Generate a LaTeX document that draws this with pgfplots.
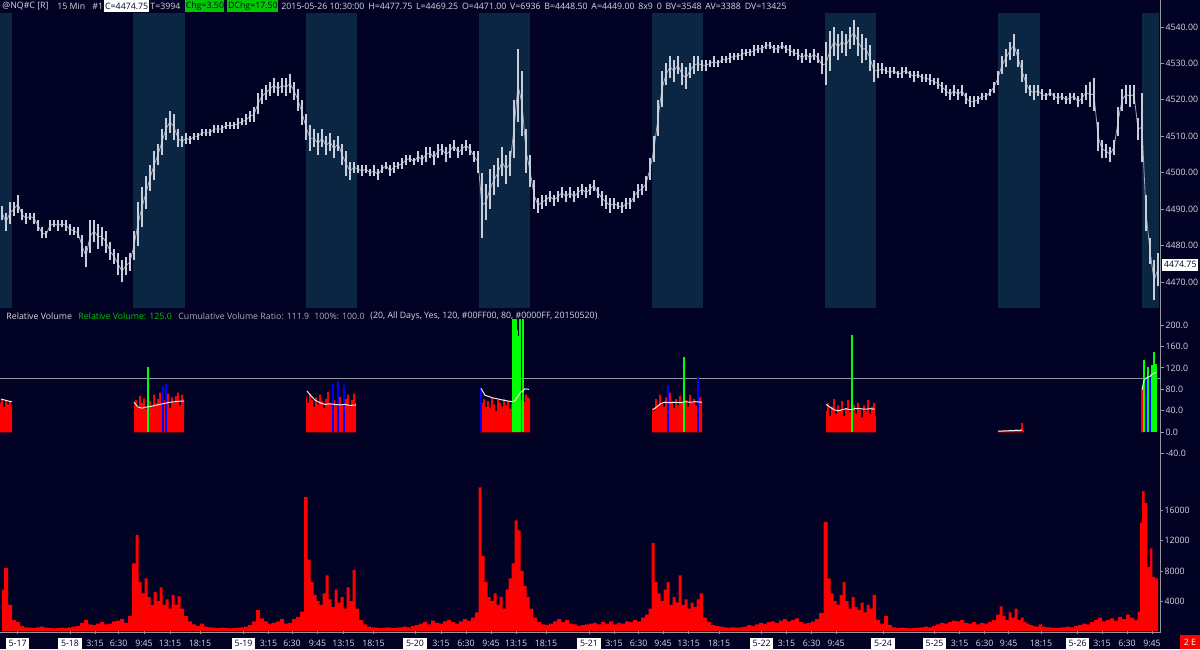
\documentclass[border=0pt]{standalone}
\usepackage{pgfplots}
\usepackage{pgfplotstable}
\pgfplotsset{compat=1.18}
\usepackage{fontspec}
\setmainfont{Open Sans}
\definecolor{bgcol}{RGB}{2,2,36}
\definecolor{sesscol}{RGB}{10,38,66}
\definecolor{pricecol}{RGB}{200,205,218}
\definecolor{axcol}{RGB}{150,150,160}
\definecolor{lbl}{RGB}{215,215,222}
\definecolor{vred}{RGB}{255,0,0}
\definecolor{vgreen}{RGB}{0,255,0}
\definecolor{vblue}{RGB}{0,0,255}
\definecolor{hgreen}{RGB}{0,200,0}
\definecolor{dimtxt}{RGB}{170,170,180}
\newcommand\fs{\fontsize{4.4}{5.3}\selectfont}
\newcommand\db[1]{{\setlength{\fboxsep}{1.3pt}\colorbox{white}{\textcolor{bgcol}{#1}}}}

% price bars: bar position, low, high
\pgfplotstableread{
x lo hi
2 4487 4491
6 4484 4489
10 4486 4492
14 4488 4492
18 4489 4494
22 4487 4490
26 4486 4489
30 4487 4489
34 4486 4489
38 4484 4487
42 4482 4485
46 4482 4484
50 4484 4487
54 4485 4487
58 4484 4487
62 4485 4487
66 4484 4487
70 4483 4486
74 4483 4485
78 4482 4485
82 4477 4483
86 4474 4480
90 4478 4487
94 4481 4487
98 4479 4486
102 4480 4485
106 4478 4484
110 4476 4481
114 4475 4479
118 4472 4478
122 4470 4476
126 4472 4477
130 4473 4478
134 4476 4484
138 4480 4492
142 4485 4496
146 4490 4499
150 4495 4502
154 4498 4506
158 4502 4508
162 4505 4512
166 4509 4515
170 4511 4517
174 4509 4516
178 4507 4512
182 4507 4510
186 4508 4511
190 4508 4510
194 4509 4511
198 4509 4511
202 4510 4512
206 4510 4512
210 4510 4512
214 4511 4513
218 4511 4513
222 4511 4513
226 4512 4514
230 4512 4514
234 4512 4514
238 4512 4515
242 4513 4515
246 4513 4516
250 4514 4517
254 4514 4518
258 4516 4522
262 4519 4523
266 4520 4524
270 4521 4525
274 4522 4526
278 4521 4525
282 4522 4526
286 4521 4526
290 4522 4527
294 4520 4525
298 4517 4523
302 4513 4520
306 4509 4516
310 4506 4513
314 4507 4512
318 4505 4511
322 4507 4512
326 4505 4510
330 4506 4511
334 4504 4509
338 4506 4510
342 4502 4508
346 4499 4506
350 4498 4503
354 4500 4503
358 4500 4502
362 4499 4502
366 4500 4502
370 4499 4501
374 4499 4502
378 4498 4501
382 4500 4502
386 4501 4503
390 4499 4502
394 4500 4503
398 4501 4503
402 4501 4504
406 4502 4505
410 4503 4505
414 4502 4504
418 4503 4506
422 4502 4505
426 4503 4507
430 4504 4507
434 4502 4506
438 4504 4508
442 4505 4508
446 4503 4507
450 4504 4508
454 4506 4509
458 4504 4507
462 4505 4508
466 4506 4509
470 4505 4508
474 4503 4506
478 4500 4506
482 4482 4500
486 4487 4497
490 4490 4501
494 4494 4502
498 4496 4504
502 4499 4507
506 4497 4505
510 4499 4506
514 4504 4520
518 4514 4534
522 4510 4528
526 4500 4512
530 4496 4505
534 4490 4498
538 4489 4493
542 4490 4494
546 4491 4494
550 4492 4495
554 4491 4494
558 4492 4495
562 4493 4496
566 4492 4495
570 4493 4496
574 4492 4495
578 4493 4496
582 4494 4497
586 4493 4496
590 4494 4497
594 4495 4498
598 4493 4496
602 4491 4495
606 4490 4494
610 4489 4493
614 4490 4493
618 4490 4492
622 4489 4492
626 4490 4493
630 4490 4493
634 4492 4495
638 4493 4497
642 4494 4497
646 4495 4499
650 4498 4504
654 4503 4510
658 4510 4520
662 4518 4528
666 4524 4530
670 4526 4532
674 4525 4531
678 4527 4532
682 4524 4530
686 4523 4529
690 4526 4530
694 4527 4532
698 4528 4532
702 4528 4531
706 4528 4531
710 4529 4531
714 4529 4532
718 4529 4531
722 4530 4532
726 4530 4532
730 4530 4533
734 4531 4533
738 4531 4533
742 4531 4534
746 4532 4534
750 4532 4534
754 4532 4535
758 4533 4535
762 4533 4535
766 4534 4536
770 4534 4536
774 4533 4535
778 4533 4535
782 4534 4536
786 4533 4535
790 4532 4535
794 4532 4534
798 4531 4534
802 4530 4533
806 4531 4534
810 4530 4533
814 4531 4534
818 4530 4533
822 4527 4532
826 4524 4536
830 4528 4539
834 4532 4540
838 4531 4538
842 4533 4539
846 4532 4538
850 4534 4540
854 4535 4542
858 4532 4540
862 4530 4538
866 4531 4537
870 4528 4535
874 4525 4531
878 4526 4530
882 4527 4530
886 4527 4529
890 4526 4529
894 4527 4529
898 4526 4528
902 4526 4529
906 4527 4529
910 4526 4528
914 4525 4528
918 4526 4528
922 4525 4527
926 4525 4527
930 4524 4527
934 4524 4526
938 4523 4526
942 4522 4525
946 4521 4524
950 4520 4523
954 4521 4524
958 4520 4523
962 4521 4524
966 4519 4522
970 4518 4521
974 4518 4521
978 4519 4521
982 4520 4522
986 4520 4522
990 4521 4523
994 4522 4525
998 4524 4528
1002 4527 4532
1006 4529 4534
1010 4531 4536
1014 4532 4538
1018 4529 4534
1022 4525 4531
1026 4522 4527
1030 4521 4524
1034 4520 4524
1038 4521 4524
1042 4520 4523
1046 4520 4522
1050 4521 4523
1054 4520 4522
1058 4519 4522
1062 4520 4522
1066 4519 4521
1070 4519 4522
1074 4520 4522
1078 4518 4521
1082 4519 4522
1086 4520 4524
1090 4518 4525
1094 4517 4526
1098 4506 4514
1102 4504 4509
1106 4504 4508
1110 4503 4507
1114 4505 4509
1118 4510 4518
1122 4517 4523
1126 4519 4524
1130 4518 4524
1134 4519 4524
1138 4509 4515
1142 4503 4522
1146 4484 4494
1150 4475 4482
1154 4465 4476
1158 4469 4478
}\pricedata

% volume
\pgfplotstableread{
x v
2 5500
6 8400
10 3500
14 1500
18 1200
22 700
26 500
30 450
34 400
38 500
42 600
46 450
50 400
54 350
58 400
62 450
66 400
70 500
74 600
78 700
82 1100
86 1500
90 900
94 800
98 1000
102 1200
106 900
110 1000
114 1300
118 1400
122 1600
126 1100
130 2000
134 9000
137 12800
140 6500
143 5000
146 7000
149 4500
152 3500
155 5200
158 4000
161 5800
164 3500
167 4200
170 3000
173 4800
176 3500
179 4600
182 3000
186 2000
190 1300
194 900
198 700
202 1000
206 600
210 500
214 450
218 400
222 450
226 400
230 350
234 400
238 450
242 500
246 600
250 800
254 1300
258 2800
262 1700
266 1300
270 1000
274 1100
278 1300
282 1600
286 1000
290 1100
294 1600
298 1900
302 2600
306 17800
309 9500
312 6500
315 4800
318 4000
321 3500
324 5000
327 7400
330 4200
333 3200
336 5500
339 3800
342 4500
345 3000
348 5800
351 4000
354 8100
357 3000
361 1500
365 900
369 600
373 500
377 450
381 400
385 450
389 500
393 400
397 450
401 500
405 600
409 500
413 700
417 800
421 1000
425 1200
429 900
433 1400
437 1100
441 1000
445 1300
449 1500
453 1200
457 1000
461 1300
465 1600
469 1400
473 1800
477 2500
480 19100
483 10000
486 6500
489 4500
492 4000
495 5000
498 3500
501 4500
504 3000
507 5500
510 7000
513 9000
516 14700
519 13400
522 8000
525 6000
528 4500
531 3000
535 1800
539 1200
543 900
547 800
551 1000
555 1300
559 1600
563 1200
567 1500
571 1000
575 900
579 700
583 800
587 900
591 1000
595 1100
599 900
603 1200
607 1000
611 1300
615 900
619 1100
623 1000
627 1300
631 1200
635 1500
639 1300
643 1800
647 2200
650 3000
653 11700
656 6500
659 5000
662 4000
665 5500
668 6500
671 3500
674 4500
677 3800
680 7400
683 3500
686 4200
689 3000
692 3800
695 3200
698 4200
701 5000
705 1800
709 1200
713 800
717 700
721 600
725 500
729 450
733 500
737 450
741 500
745 600
749 800
753 700
757 900
761 1100
765 1000
769 1200
773 1300
777 1100
781 1400
785 1600
789 1300
793 1500
797 1700
801 1200
805 1000
809 1100
813 1300
817 1600
821 2400
826 14500
829 7000
832 5000
835 4000
838 3500
841 4800
844 6500
847 4000
850 3000
853 4500
856 3200
859 2800
862 3800
865 2500
868 3500
871 3000
874 4800
878 1500
882 1000
886 2000
890 800
894 500
898 400
902 450
906 400
910 350
914 400
918 450
922 500
926 600
930 500
934 700
938 900
942 1100
946 1000
950 1200
954 1400
958 1300
962 1500
966 1100
970 1000
974 1200
978 900
982 1100
986 1000
990 1200
994 1500
998 2200
1001 3300
1004 2000
1007 1500
1010 2500
1013 1800
1016 3000
1019 1500
1022 1800
1025 1200
1028 1000
1031 800
1034 700
1037 600
1040 900
1044 600
1048 500
1052 450
1056 400
1060 450
1064 500
1068 600
1072 500
1076 700
1080 800
1084 1000
1088 900
1092 1200
1096 1500
1100 1800
1104 1300
1108 1500
1112 1700
1116 1400
1120 1900
1124 1600
1128 2200
1132 1800
1136 1500
1139 2600
1141 14400
1143 18600
1146 17000
1148.5 8500
1151 11000
1153.5 7200
1156.5 7000
1158 7000
}\voldata

\pgfplotsset{
  base/.style={scale only axis, width=580pt, xmin=0, xmax=1160,
    anchor=south west, axis line style={draw=none},
    xtick=\empty, ytick pos=right, yticklabel pos=right,
    tick align=outside, major tick length=2pt,
    tick style={axcol, line width=0.4pt},
    scaled y ticks=false,
    yticklabel style={font=\fs, text=lbl, anchor=west, inner sep=0.6pt,
      /pgf/number format/assume math mode=true,
      /pgf/number format/1000 sep={}}},
}

\begin{document}
\begin{tikzpicture}
\fill[bgcol] (0,0) rectangle (600pt,324.5pt);

% ---------------- price panel
\begin{axis}[base, at={(0pt,170.5pt)}, height=147.5pt,
  ymin=4462.87, ymax=4543.84, ytick={4470,4480,...,4540},
  yticklabel style={/pgf/number format/fixed, /pgf/number format/fixed zerofill, /pgf/number format/precision=2}]
\fill[sesscol] (axis cs:0,4460) rectangle (axis cs:12,4545);
\fill[sesscol] (axis cs:133,4460) rectangle (axis cs:184.5,4545);
\fill[sesscol] (axis cs:306,4460) rectangle (axis cs:357,4545);
\fill[sesscol] (axis cs:479,4460) rectangle (axis cs:530,4545);
\fill[sesscol] (axis cs:652,4460) rectangle (axis cs:703,4545);
\fill[sesscol] (axis cs:825,4460) rectangle (axis cs:876,4545);
\fill[sesscol] (axis cs:998,4460) rectangle (axis cs:1040,4545);
\fill[sesscol] (axis cs:1141.5,4460) rectangle (axis cs:1158.5,4545);
\addplot[pricecol!80!bgcol, line width=0.4pt, mark=none]
  table[x=x, y expr=(\thisrow{lo}+\thisrow{hi})/2] {\pricedata};
\addplot[draw=none, mark=none, error bars/.cd, y dir=plus, y explicit,
  error mark=none, error bar style={draw=pricecol, line width=0.7pt}]
  table[x=x, y=lo, y error expr=\thisrow{hi}-\thisrow{lo}] {\pricedata};
\end{axis}

% ---------------- relative volume panel
\begin{axis}[base, at={(0pt,89.5pt)}, height=75pt,
  ymin=-70.2, ymax=209.2, ytick={-40,0,40,...,200},
  yticklabel style={/pgf/number format/fixed, /pgf/number format/fixed zerofill, /pgf/number format/precision=1}]
\addplot[axcol, line width=0.4pt, mark=none] coordinates {(0,100) (1160,100)};
\pgfplotsset{every axis plot/.append style={mark=none}}
\addplot[fill=vred, draw=none, const plot mark mid] coordinates {(0,55) (2,62) (4,48) (6,60) (8,52) (10,58) (12,50)} \closedcycle;
\addplot[fill=vred, draw=none, const plot mark mid] coordinates {(134,52) (136,60) (138,45) (140,68) (142,55) (144,63) (146,44) (148,50) (150,58) (152,47) (154,70) (156,54) (158,62) (160,74) (162,50) (164,60) (166,58) (168,72) (170,45) (172,65) (174,55) (176,68) (178,74) (180,50) (182,70) (184,62)} \closedcycle;
\addplot[fill=vred, draw=none, const plot mark mid] coordinates {(306,66) (308,55) (310,72) (312,60) (314,48) (316,65) (318,52) (320,70) (322,58) (324,45) (326,62) (328,75) (330,55) (332,48) (334,60) (336,52) (338,45) (340,66) (342,50) (344,58) (346,62) (348,70) (350,48) (352,60) (354,72) (356,55)} \closedcycle;
\addplot[fill=vred, draw=none, const plot mark mid] coordinates {(480,60) (482,55) (484,62) (486,48) (488,58) (490,45) (492,64) (494,52) (496,40) (498,60) (500,55) (502,48) (504,62) (506,50) (508,58) (510,44) (512,52) (514,50) (516,50) (518,50) (520,55) (522,60) (524,56) (526,70) (528,65) (530,62)} \closedcycle;
\addplot[fill=vred, draw=none, const plot mark mid] coordinates {(652,45) (654,40) (656,62) (658,50) (660,70) (662,55) (664,48) (666,65) (668,52) (670,74) (672,58) (674,45) (676,62) (678,50) (680,68) (682,55) (684,50) (686,60) (688,48) (690,70) (692,55) (694,62) (696,50) (698,60) (700,65) (702,58)} \closedcycle;
\addplot[fill=vred, draw=none, const plot mark mid] coordinates {(826,40) (828,55) (830,30) (832,48) (834,62) (836,35) (838,50) (840,42) (842,58) (844,30) (846,45) (848,60) (850,38) (852,50) (854,50) (856,35) (858,55) (860,42) (862,28) (864,50) (866,40) (868,60) (870,35) (872,48) (874,55) (876,30)} \closedcycle;
\addplot[fill=vred, draw=none, const plot mark mid] coordinates {(998,2) (1000,3) (1002,2) (1004,4) (1006,3) (1008,2) (1010,5) (1012,3) (1014,4) (1016,6) (1018,3) (1020,5) (1022,17) (1024,4)} \closedcycle;
\addplot[fill=vred, draw=none, const plot mark mid] coordinates {(1141,79) (1143,79)} \closedcycle;
\addplot[ycomb, vblue, line width=0.9pt] coordinates {(163,86) (166,90) (333,90) (338,96) (344,88) (481,82) (668,88) (698,103) (1146,100) (1150,102)};
\addplot[ycomb, vgreen, line width=0.9pt] coordinates {(148,122) (513,250) (514.5,250) (516,250) (517.5,190) (519,180) (520.3,250) (523,250) (684,141) (852,182) (1144,134) (1148,122) (1152,125) (1154,150) (1156,128)};
\addplot[white!85!gray, line width=0.5pt] coordinates {(1,62) (5,60) (9,58) (12,57)};
\addplot[white!85!gray, line width=0.5pt] coordinates {(134,56) (138,47) (142,45) (146,47) (150,48) (155,50) (160,52) (165,54) (170,56) (175,57) (180,58) (184,58)};
\addplot[white!85!gray, line width=0.5pt] coordinates {(307,77) (311,68) (315,60) (320,55) (325,52) (330,53) (335,52) (340,51) (345,52) (350,50) (356,51)};
\addplot[white!85!gray, line width=0.5pt] coordinates {(481,82) (485,69) (493,64) (503,60) (512,57) (515,59) (520,73) (525,81) (529,80)};
\addplot[white!85!gray, line width=0.5pt] coordinates {(653,42) (657,48) (661,54) (665,56) (670,55) (675,56) (680,55) (685,57) (690,56) (695,57) (702,56)};
\addplot[white!85!gray, line width=0.5pt] coordinates {(826,52) (830,47) (834,42) (838,40) (842,42) (846,44) (850,42) (855,44) (860,44) (865,43) (870,44) (875,43)};
\addplot[white!85!gray, line width=0.5pt] coordinates {(998,2) (1010,3) (1022,4)};
\addplot[white!85!gray, line width=0.5pt] coordinates {(1142,79) (1144,97) (1146,101) (1148,103) (1150,104) (1152,108) (1154,110) (1156,112)};
\end{axis}

% ---------------- volume panel
\begin{axis}[base, at={(0pt,8.95pt)}, height=80.55pt,
  ymin=0, ymax=21409, ytick={4000,8000,12000,16000},
  yticklabel style={/pgf/number format/fixed, /pgf/number format/precision=0},
  xtick={17.6,70,95,118.6,144,170,200,243.5,268.5,292,317.5,343.5,373.5,415,441,466,491,516,546,589,614,638.6,663,688.6,719,761.7,786.5,811.6,836,883,934.5,959.6,984.7,1008.7,1041,1077.6,1102,1127,1152},
  xticklabels={\db{5-17},\db{5-18},3:15,6:30,9:45,13:15,18:15,\db{5-19},3:15,6:30,9:45,13:15,18:15,\db{5-20},3:15,6:30,9:45,13:15,18:15,\db{5-21},3:15,6:30,9:45,13:15,18:15,\db{5-22},3:15,6:30,9:45,\db{5-24},\db{5-25},3:15,6:30,9:45,18:15,\db{5-26},3:15,6:30,9:45},
  xtick pos=bottom, major tick length=1.5pt,
  xticklabel style={font=\fs, text=lbl, anchor=base, inner sep=0pt, yshift=-6.4pt}]
\addplot[fill=vred, draw=none, mark=none, const plot mark mid] table {\voldata} \closedcycle;
\end{axis}

% axis frame lines
\draw[axcol, line width=0.5pt] (0,8.2pt) -- (580pt,8.2pt);
\draw[axcol, line width=0.5pt] (580.3pt,8.2pt) -- (580.3pt,324.5pt);

% price marker
\node[fill=white, text=bgcol, font=\fs, inner xsep=0.8pt, inner ysep=1.3pt, anchor=west] at (581pt,192.15pt) {4474.75};
% 2 E box
\node[fill=vred, text=white, font=\fs, inner xsep=1.8pt, inner ysep=1.8pt, anchor=south east] at (600pt,0pt) {2 E};

% header rows
\begin{scope}[every node/.style={font=\fs, anchor=west, inner ysep=0.6pt, inner xsep=0pt, text=lbl}]
\node at (1pt,321.5pt) {@NQ\#C [R]};
\node at (28.5pt,321.5pt) {15 Min};
\node at (46pt,321.5pt) {\#1};
\node[fill=white, text=bgcol, minimum height=6pt, minimum width=22.3pt] at (52pt,321.5pt) {C=4474.75};
\node at (75pt,321.5pt) {T=3994};
\node[fill=hgreen, text=bgcol, minimum height=6pt, minimum width=19.5pt] at (92.5pt,321.5pt) {Chg=3.50};
\node[fill=hgreen, text=bgcol, minimum height=6pt, minimum width=25.5pt] at (113.5pt,321.5pt) {DChg=17.50};
\node at (140.5pt,321.5pt) {\hbox to 252.5pt{2015-05-26 10:30:00\hfill H=4477.75\hfill L=4469.25\hfill O=4471.00\hfill V=6936\hfill B=4448.50\hfill A=4449.00\hfill 8x9\hfill 0\hfill BV=3548\hfill AV=3388\hfill DV=13425}};
\node at (3pt,166.5pt) {Relative Volume};
\node[text=hgreen] at (39pt,166.5pt) {Relative Volume: 125.0};
\node[text=dimtxt] at (89pt,166.5pt) {Cumulative Volume Ratio: 111.9};
\node[text=dimtxt] at (157pt,166.5pt) {100\%: 100.0};
\node at (185pt,166.5pt) {(20, All Days, Yes, 120, \#00FF00, 80, \#0000FF, 20150520)};
\end{scope}

\pgfresetboundingbox
\path[use as bounding box] (0,0) rectangle (600pt,324.5pt);
\end{tikzpicture}
\end{document}
